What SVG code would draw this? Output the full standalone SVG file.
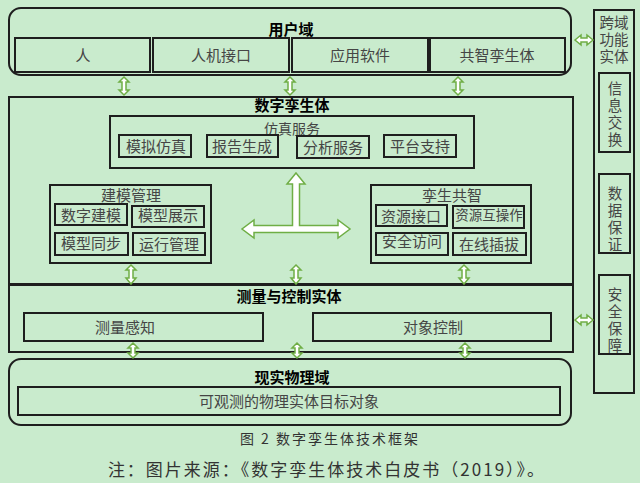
<svg xmlns="http://www.w3.org/2000/svg" width="640" height="483" viewBox="0 0 640 483">
<style>
.bx{fill:none;stroke:#1e1e1e;stroke-width:2}
.t{font-family:"Noto Sans CJK SC","Noto Sans",sans-serif;font-size:15px;fill:#454545;text-anchor:middle}
.v{font-family:"DejaVu Sans","Noto Sans CJK SC",sans-serif;font-size:14.5px;fill:#454545;text-anchor:middle}
.s{font-size:14px}
.b{font-family:"Noto Sans CJK SC","Noto Sans",sans-serif;font-size:15px;font-weight:bold;fill:#000;text-anchor:middle}
.ar{fill:#fff;stroke:#6fae45;stroke-width:1.5;stroke-linejoin:miter}
.cap{font-family:"Noto Sans CJK SC","Noto Sans",sans-serif;fill:#333;text-anchor:middle}
</style>
<rect width="640" height="483" fill="#c9ebcd"/>

<g id="user-domain">
<rect class="bx" x="9" y="8" width="562" height="67" rx="12"/>
<text class="b" x="291" y="35">用户域</text>
<rect class="bx" x="15" y="38" width="135" height="34"/>
<text class="t" x="83" y="61">人</text>
<rect class="bx" x="153" y="38" width="136" height="34"/>
<text class="t" x="221" y="61">人机接口</text>
<rect class="bx" x="292" y="38" width="136" height="34"/>
<text class="t" x="360" y="61">应用软件</text>
<rect class="bx" x="430" y="38" width="135" height="34"/>
<text class="t" x="497" y="61">共智孪生体</text>
</g>

<g id="digital-twin">
<rect class="bx" x="9" y="97" width="564" height="187"/>
<text class="b" x="292" y="111">数字孪生体</text>
</g>

<g id="sim-service">
<rect class="bx" x="110" y="116" width="364" height="52"/>
<text class="t s" x="292" y="134">仿真服务</text>
<rect class="bx" x="119" y="135" width="72" height="22"/>
<text class="t" x="156" y="152">模拟仿真</text>
<rect class="bx" x="207" y="135" width="71" height="22"/>
<text class="t" x="242" y="152">报告生成</text>
<rect class="bx" x="297" y="136" width="72" height="22"/>
<text class="t" x="333" y="153">分析服务</text>
<rect class="bx" x="384" y="135" width="72" height="22"/>
<text class="t" x="420" y="152">平台支持</text>
</g>

<g id="modeling-mgmt">
<rect class="bx" x="50" y="185" width="161" height="78"/>
<text class="t" x="131" y="201">建模管理</text>
<rect class="bx" x="55" y="204" width="72" height="21"/>
<text class="t" x="91" y="221">数字建模</text>
<rect class="bx" x="132" y="206" width="72" height="21"/>
<text class="t" x="168" y="221">模型展示</text>
<rect class="bx" x="55" y="233" width="73" height="22"/>
<text class="t" x="91" y="249">模型同步</text>
<rect class="bx" x="133" y="233" width="72" height="22"/>
<text class="t" x="169" y="250">运行管理</text>
</g>

<g id="twin-intelligence">
<rect class="bx" x="371" y="185" width="160" height="78"/>
<text class="t" x="452" y="201">孪生共智</text>
<rect class="bx" x="376" y="205" width="71" height="21"/>
<text class="t" x="411" y="222">资源接口</text>
<rect class="bx" x="453" y="206" width="71" height="22"/>
<text class="t" x="489" y="220" style="font-size:13.5px">资源互操作</text>
<rect class="bx" x="376" y="233" width="72" height="22"/>
<text class="t" x="412" y="247">安全访问</text>
<rect class="bx" x="453" y="233" width="73" height="22"/>
<text class="t" x="489" y="250">在线插拔</text>
</g>

<g id="measure-control">
<rect class="bx" x="9" y="285" width="564" height="67"/>
<text class="b" x="289" y="302">测量与控制实体</text>
<rect class="bx" x="24" y="313" width="239" height="28"/>
<text class="t" x="125" y="333">测量感知</text>
<rect class="bx" x="313" y="313" width="238" height="28"/>
<text class="t" x="433" y="333">对象控制</text>
</g>

<g id="physical-domain">
<rect class="bx" x="9" y="359" width="562" height="66" rx="12"/>
<text class="b" x="292" y="383">现实物理域</text>
<rect class="bx" x="18" y="387" width="542" height="28"/>
<text class="t" x="289" y="407">可观测的物理实体目标对象</text>
</g>

<g id="cross-domain">
<rect class="bx" x="594" y="10" width="40" height="383"/>
<text class="v"><tspan x="614" y="28">跨域</tspan><tspan x="614" y="45">功能</tspan><tspan x="614" y="62">实体</tspan></text>
<rect class="bx" x="599" y="73" width="31" height="79"/>
<text class="v"><tspan x="615" y="94">信</tspan><tspan x="615" y="111">息</tspan><tspan x="615" y="128">交</tspan><tspan x="615" y="145">换</tspan></text>
<rect class="bx" x="599" y="174" width="31" height="79"/>
<text class="v"><tspan x="615" y="199">数</tspan><tspan x="615" y="216">据</tspan><tspan x="615" y="233">保</tspan><tspan x="615" y="250">证</tspan></text>
<rect class="bx" x="599" y="275" width="31" height="79"/>
<text class="v"><tspan x="615" y="300">安</tspan><tspan x="615" y="317">全</tspan><tspan x="615" y="334">保</tspan><tspan x="615" y="351">障</tspan></text>
</g>

<g id="connectors">
<path class="ar" d="M124,77 L129,82 L126,82 L126,90 L129,90 L124,95 L119,90 L122,90 L122,82 L119,82 Z"/>
<path class="ar" d="M290,77 L295,82 L292,82 L292,90 L295,90 L290,95 L285,90 L288,90 L288,82 L285,82 Z"/>
<path class="ar" d="M458,77 L463,82 L460,82 L460,90 L463,90 L458,95 L453,90 L456,90 L456,82 L453,82 Z"/>
<path class="ar" d="M131,265 L136,270 L133,270 L133,278 L136,278 L131,284 L126,278 L129,278 L129,270 L126,270 Z"/>
<path class="ar" d="M296,265 L301,270 L298,270 L298,278 L301,278 L296,284 L291,278 L294,278 L294,270 L291,270 Z"/>
<path class="ar" d="M464,265 L469,270 L466,270 L466,278 L469,278 L464,284 L459,278 L462,278 L462,270 L459,270 Z"/>
<path class="ar" d="M133,343 L138,348 L135,348 L135,353 L138,353 L133,358 L128,353 L131,353 L131,348 L128,348 Z"/>
<path class="ar" d="M297,343 L302,348 L299,348 L299,353 L302,353 L297,358 L292,353 L295,353 L295,348 L292,348 Z"/>
<path class="ar" d="M465,343 L470,348 L467,348 L467,353 L470,353 L465,358 L460,353 L463,353 L463,348 L460,348 Z"/>
<path class="ar" d="M575,40 L581,35 L581,38 L587,38 L587,35 L593,40 L587,45 L587,42 L581,42 L581,45 Z"/>
<path class="ar" d="M575,320 L581,315 L581,318 L587,318 L587,315 L593,320 L587,325 L587,322 L581,322 L581,325 Z"/>
<path class="ar" d="M296,173 L305,184 L299.5,184 L299.5,225.5 L338,225.5 L338,220 L350,229 L338,238 L338,232.5 L254,232.5 L254,238 L242,229 L254,220 L254,225.5 L292.5,225.5 L292.5,184 L287,184 Z"/>
</g>

<text class="cap" x="330" y="444" style="font-size:14px;letter-spacing:2px">图 2 数字孪生体技术框架</text>
<text class="cap" x="327" y="476" style="font-size:17px;letter-spacing:2px">注：图片来源：《数字孪生体技术白皮书（2019）》。</text>
</svg>
